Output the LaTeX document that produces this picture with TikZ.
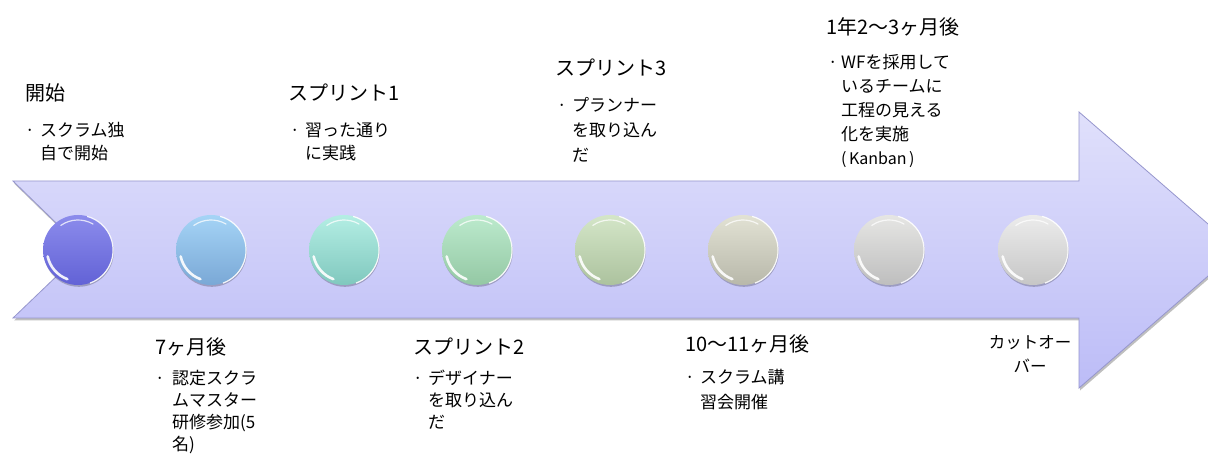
\documentclass[tikz,border=0pt]{standalone}
\usepackage{fontspec}
\setmainfont{Noto Sans CJK JP}
\usetikzlibrary{calc,shadows}
\definecolor{arrowtop}{RGB}{224,224,251}
\definecolor{arrowbot}{RGB}{188,188,247}
\definecolor{arrowedge}{RGB}{150,150,205}
\definecolor{aT}{RGB}{140,140,236}\definecolor{aB}{RGB}{98,98,214}
\definecolor{bT}{RGB}{165,212,246}\definecolor{bB}{RGB}{122,168,214}
\definecolor{cT}{RGB}{180,238,228}\definecolor{cB}{RGB}{128,200,190}
\definecolor{dT}{RGB}{188,234,205}\definecolor{dB}{RGB}{148,200,164}
\definecolor{eT}{RGB}{212,230,200}\definecolor{eB}{RGB}{172,194,158}
\definecolor{fT}{RGB}{226,226,212}\definecolor{fB}{RGB}{184,184,170}
\definecolor{gT}{RGB}{230,230,228}\definecolor{gB}{RGB}{190,190,190}
\definecolor{hT}{RGB}{236,236,236}\definecolor{hB}{RGB}{198,198,198}
\begin{document}
\begin{tikzpicture}[x=1pt,y=1pt,
  ttl/.style={font=\fontsize{20}{24}\selectfont, inner sep=0pt, anchor=base west},
  body/.style={font=\fontsize{17}{#1}\selectfont, inner sep=0pt, anchor=base west},
  ball/.style 2 args={circle, minimum size=70pt, inner sep=0pt, top color=#1, bottom color=#2,
    drop shadow={shadow xshift=0.8pt, shadow yshift=-1.8pt, fill=black, opacity=.22}},
  rim/.style={white, line width=1.2pt, opacity=.9},
  gloss/.style={white, line width=2.6pt, line cap=round, opacity=.9},
  shine/.style={white, line width=1.2pt, line cap=round, opacity=.75}]
\useasboundingbox (0,0) rectangle (1208,464);
\clip (0,0) rectangle (1208,464);
\fill[white] (0,0) rectangle (1208,464);
% arrow
\path[drop shadow={shadow xshift=1pt, shadow yshift=-2.5pt, fill=black, opacity=.25},
      top color=arrowtop, bottom color=arrowbot, draw=arrowedge, line width=0.8pt]
  (13,283) -- (1079,283) -- (1079,352) -- (1238,214) -- (1079,76) -- (1079,146)
  -- (13,146) -- (84,214) -- cycle;
% balls
\foreach \n/\x/\t/\b in {b1/78/aT/aB, b2/211/bT/bB, b3/344/cT/cB, b4/477/dT/dB,
                        b5/610/eT/eB, b6/743/fT/fB, b7/889/gT/gB, b8/1033/hT/hB}{
  \node[ball={\t}{\b}] (\n) at (\x,214) {};
  \draw[rim] (\n.-70) arc[start angle=-70, end angle=75, radius=35pt];
  \draw[gloss] ($(\n.center)+(192:31pt)$) arc[start angle=192, end angle=250, radius=31pt];
  \draw[shine] ($(\n.center)+(60:30pt)$) arc[start angle=60, end angle=125, radius=30pt];
}
% top labels
\node[ttl] (t1) at (25,363.5) {開始};
\node[body=23] (d1) at (25,327.5) {\begin{tabular}[t]{@{}l@{}l@{}}\makebox[15pt][l]{·}&スクラム独\\&自で開始\end{tabular}};
\node[ttl] (t3) at (288,363.5) {スプリント1};
\node[body=23] (d3) at (290,327.5) {\begin{tabular}[t]{@{}l@{}l@{}}\makebox[15pt][l]{·}&習った通り\\&に実践\end{tabular}};
\node[ttl] (t5) at (555,388.5) {スプリント3};
\node[body=25] (d5) at (557,352.5) {\begin{tabular}[t]{@{}l@{}l@{}}\makebox[15pt][l]{·}&プランナー\\&を取り込ん\\&だ\end{tabular}};
\node[ttl] (t7) at (826,429.4) {1年2〜3ヶ月後};
\node[body=24] (d7) at (828,395.5) {\begin{tabular}[t]{@{}l@{}l@{}}\makebox[13pt][l]{·}&WFを採用して\\&いるチームに\\&工程の見える\\&化を実施\\&{\fontsize{16}{24}\selectfont (\hspace{2.5pt}Kanban\hspace{2.5pt})}\end{tabular}};
% bottom labels
\node[ttl] (t2) at (155,109.4) {7ヶ月後};
\node[body=22] (d2) at (155,79.5) {\begin{tabular}[t]{@{}l@{}l@{}}\makebox[17pt][l]{·}&認定スクラ\\&ムマスター\\&研修参加(5\\&名)\end{tabular}};
\node[ttl] (t4) at (413,109.4) {スプリント2};
\node[body=22] (d4) at (413,79.5) {\begin{tabular}[t]{@{}l@{}l@{}}\makebox[15pt][l]{·}&デザイナー\\&を取り込ん\\&だ\end{tabular}};
\node[ttl] (t6) at (685,113) {10〜11ヶ月後};
\node[body=25] (d6) at (685,81) {\begin{tabular}[t]{@{}l@{}l@{}}\makebox[15pt][l]{·}&スクラム講\\&習会開催\end{tabular}};
\node[font=\fontsize{16.5}{23}\selectfont, inner sep=0pt, anchor=base] (t8) at (1030,115) {\begin{tabular}[t]{@{}c@{}}カットオー\\バー\end{tabular}};
\end{tikzpicture}
\end{document}
